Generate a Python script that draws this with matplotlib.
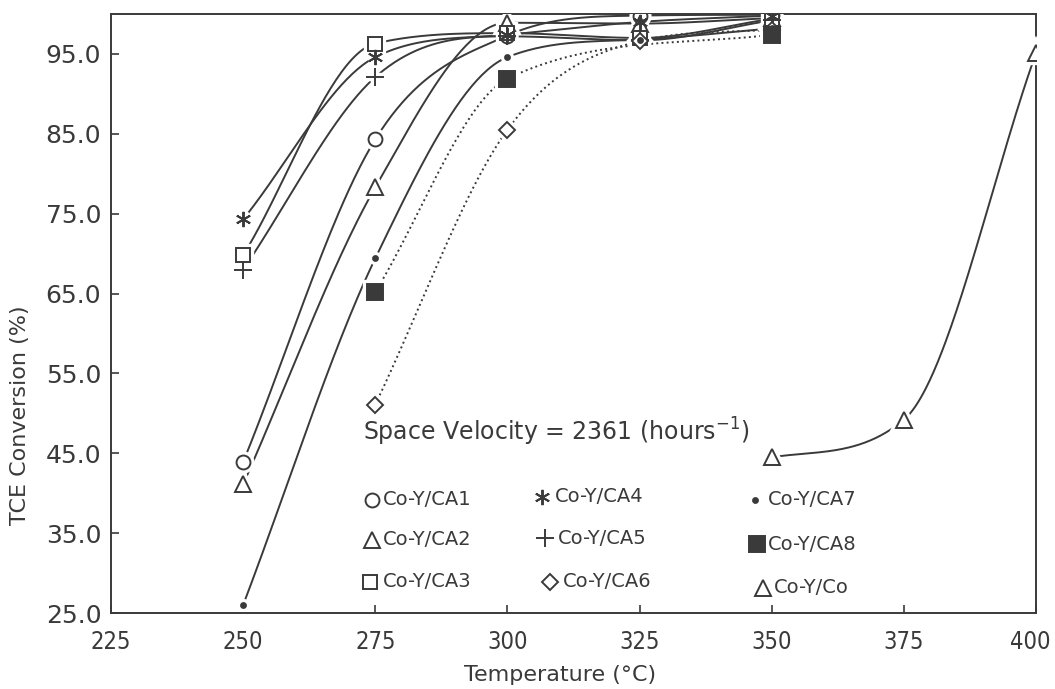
import matplotlib
matplotlib.use('Agg')
from matplotlib import pyplot as plt
from matplotlib import font_manager
from matplotlib.transforms import ScaledTranslation
import numpy as np

# temperatures (deg C) and TCE conversion (%) for each catalyst
temp_5 = [250, 275, 300, 325, 350]
ca1 = [43.9, 84.3, 97.3, 99.8, 99.9]
ca2 = [41.1, 78.3, 98.9, 98.8, 99.5]
ca3 = [69.8, 96.3, 97.6, 97.0, 99.4]
ca4 = [74.3, 94.6, 97.4, 99.0, 99.8]
ca5 = [68.0, 92.1, 97.2, 96.7, 99.2]
ca7 = [26.0, 69.4, 94.6, 96.8, 98.2]

temp_ca6 = [275, 300, 325, 350]
ca6 = [51.1, 85.5, 96.6, 98.0]

temp_ca8 = [275, 300, 350]
ca8 = [65.2, 91.9, 97.4]

temp_co = [350, 375, 400]
co = [44.5, 49.2, 95.1]

x_ticks = [225, 250, 275, 300, 325, 350, 375, 400]
y_ticks = [25, 35, 45, 55, 65, 75, 85, 95]

INK = '#3a3a3a'


def smooth(x, y, n=200):
    # monotone-limited cubic through the points, only for drawing
    x = np.asarray(x, float)
    y = np.asarray(y, float)
    h = np.diff(x)
    d = np.diff(y) / h
    m = np.empty_like(y)
    m[0] = d[0]
    m[-1] = d[-1]
    for k in range(1, len(x) - 1):
        if d[k - 1] * d[k] <= 0:
            m[k] = 0.0
        else:
            m[k] = (y[k + 1] - y[k - 1]) / (x[k + 1] - x[k - 1])
    for k in range(len(d)):
        if d[k] == 0:
            m[k] = m[k + 1] = 0.0
            continue
        a = m[k] / d[k]
        b = m[k + 1] / d[k]
        r = np.hypot(a, b)
        if r > 3:
            m[k] = 3 * a / r * d[k]
            m[k + 1] = 3 * b / r * d[k]
    xs = np.linspace(x[0], x[-1], n)
    idx = np.clip(np.searchsorted(x, xs) - 1, 0, len(x) - 2)
    t = (xs - x[idx]) / h[idx]
    h00 = 2 * t**3 - 3 * t**2 + 1
    h10 = t**3 - 2 * t**2 + t
    h01 = -2 * t**3 + 3 * t**2
    h11 = t**3 - t**2
    ys = h00 * y[idx] + h10 * h[idx] * m[idx] + h01 * y[idx + 1] + h11 * h[idx] * m[idx + 1]
    return xs, ys


series = [
    (temp_5, ca1, dict(marker='o', ms=10, mfc='white'), '-'),
    (temp_5, ca2, dict(marker='^', ms=11, mfc='white'), '-'),
    (temp_5, ca3, dict(marker='s', ms=10, mfc='white'), '-'),
    (temp_5, ca4, dict(marker=(6, 2, 0), ms=11), '-'),
    (temp_5, ca5, dict(marker='+', ms=13), '-'),
    (temp_ca6, ca6, dict(marker='D', ms=8, mfc='white'), ':'),
    (temp_5, ca7, dict(marker='o', ms=3.5, mfc=INK), '-'),
    (temp_ca8, ca8, dict(marker='s', ms=11, mfc=INK), ':'),
    (temp_co, co, dict(marker='^', ms=11, mfc='white'), '-'),
]

fig = plt.figure(figsize=(10.55, 6.89), dpi=100)
ax = fig.add_axes([0.1052, 0.1103, 0.8768, 0.8694])

for xs, ys, mk, ls in series:
    cx, cy = smooth(xs, ys)
    ax.plot(cx, cy, ls=ls, color=INK, lw=1.4, zorder=2)
    # white halo so the line stops short of the marker
    ax.plot(xs, ys, ls='none', marker=mk['marker'], ms=mk['ms'],
            mfc='white', mec='white', mew=6, zorder=3)
    ax.plot(xs, ys, ls='none', marker=mk['marker'], ms=mk['ms'],
            mfc=mk.get('mfc', 'none'), mec=INK, mew=1.4, zorder=4)

# narrow digits on the temperature axis so "400" fits at the right edge
cond = font_manager.FontProperties(family='DejaVu Sans', stretch='condensed')
if 'Condensed' in font_manager.findfont(cond):
    xtick_font = dict(family='DejaVu Sans', stretch='condensed', fontsize=17)
else:
    xtick_font = dict(family='Liberation Sans', fontsize=15.5)

ax.set_xlim(225, 400)
ax.set_ylim(25, 100)
ax.set_xticks(x_ticks)
ax.set_yticks(y_ticks)
ax.set_xticklabels([str(t) for t in x_ticks], **xtick_font)
ax.set_yticklabels(['%.1f' % t for t in y_ticks], fontsize=18)
ax.tick_params(direction='in', length=6, width=1.2, color=INK, labelcolor=INK)
ax.tick_params(axis='x', pad=12)
ax.tick_params(axis='y', pad=7)
for s in ax.spines.values():
    s.set_color(INK)
    s.set_linewidth(1.4)

# nudge the last temperature label inward a little
last = ax.get_xticklabels()[-1]
last.set_transform(last.get_transform() + ScaledTranslation(-4 / 72, 0, fig.dpi_scale_trans))

fig.text(0.019, 0.398, 'TCE Conversion (%)', rotation=90, ha='center', va='center',
         fontsize=16, color=INK)
fig.text(0.531, 0.02, 'Temperature (\u00b0C)', ha='center', va='center',
         fontsize=16, color=INK)

ax.text(0.272, 0.302, 'Space Velocity = 2361 (hours$^{-1}$)', transform=ax.transAxes,
        ha='left', va='center', fontsize=17, color=INK)

# hand-placed key, three columns
key = [
    (0.282, 0.189, 0.294, dict(marker='o', ms=10, mfc='white'), 'Co-Y/CA1'),
    (0.282, 0.122, 0.294, dict(marker='^', ms=11, mfc='white'), 'Co-Y/CA2'),
    (0.280, 0.052, 0.294, dict(marker='s', ms=10, mfc='white'), 'Co-Y/CA3'),
    (0.466, 0.194, 0.480, dict(marker=(6, 2, 0), ms=11), 'Co-Y/CA4'),
    (0.469, 0.125, 0.483, dict(marker='+', ms=13), 'Co-Y/CA5'),
    (0.475, 0.052, 0.488, dict(marker='D', ms=8, mfc='white'), 'Co-Y/CA6'),
    (0.696, 0.189, 0.710, dict(marker='o', ms=3.5, mfc=INK), 'Co-Y/CA7'),
    (0.698, 0.115, 0.710, dict(marker='s', ms=11, mfc=INK), 'Co-Y/CA8'),
    (0.705, 0.042, 0.717, dict(marker='^', ms=11, mfc='white'), 'Co-Y/Co'),
]
for mx, my, tx, mk, label in key:
    ax.plot([mx], [my], ls='none', marker=mk['marker'], ms=mk['ms'],
            mfc=mk.get('mfc', 'none'), mec=INK, mew=1.4,
            transform=ax.transAxes, zorder=4)
    ax.text(tx, my, label, transform=ax.transAxes, ha='left', va='center',
            fontsize=14, color=INK)

fig.savefig('out.png', dpi=100)
